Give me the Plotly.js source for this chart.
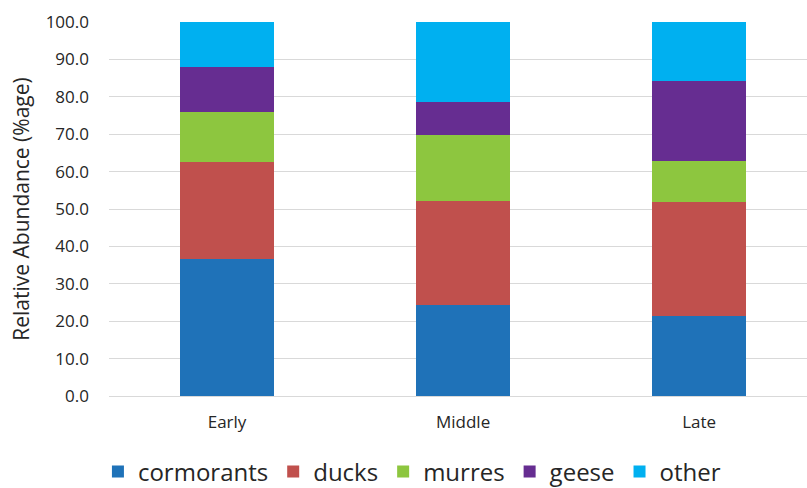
<!DOCTYPE html>
<html>
<head>
<meta charset="utf-8">
<script src="https://cdn.plot.ly/plotly-3.0.1.min.js"></script>
<style>html,body{margin:0;padding:0;background:#fff;}#chart{width:807px;height:488px;}</style>
</head>
<body>
<div id="chart"></div>
<script>
const categories = ["Early", "Middle", "Late"];
const cormorants = [36.5, 24.3, 21.5];
const ducks = [26.0, 27.9, 30.3];
const murres = [13.4, 17.7, 11.0];
const geese = [12.0, 8.7, 21.3];
const other = [12.1, 21.4, 15.9];
const seriesNames = ["cormorants", "ducks", "murres", "geese", "other"];
const seriesColors = ["#1f72b8", "#c0504d", "#8dc63f", "#662d91", "#00b0f0"];
const yTicks = [0, 10, 20, 30, 40, 50, 60, 70, 80, 90, 100];

const values = [cormorants, ducks, murres, geese, other];
const traces = values.map((v, i) => ({
  type: "bar",
  x: categories,
  y: v,
  name: seriesNames[i],
  marker: {color: seriesColors[i], line: {width: 0}},
  hoverinfo: "skip"
}));

const layout = {
  width: 807, height: 488,
  barmode: "stack",
  bargap: 0.6,
  margin: {l: 109, r: 0, t: 22, b: 92, autoexpand: false},
  paper_bgcolor: "#fff", plot_bgcolor: "#fff",
  font: {family: "Open Sans, sans-serif", color: "#404040"},
  showlegend: true,
  legend: {
    orientation: "h", x: 0.434, xanchor: "center", y: -0.203, yanchor: "middle",
    font: {size: 24, color: "#262626"}, traceorder: "normal", itemclick: false
  },
  xaxis: {
    type: "category", range: [-0.5, 2.457],
    showgrid: false, showline: false, zeroline: false, ticks: "",
    tickfont: {size: 17, color: "#262626"}, ticklabelstandoff: 14
  },
  yaxis: {
    range: [0, 100], tickvals: yTicks, ticktext: yTicks.map(v => v.toFixed(1)),
    showgrid: true, gridcolor: "#d9d9d9", gridwidth: 1,
    zeroline: true, zerolinecolor: "#d9d9d9", zerolinewidth: 1,
    showline: false, ticks: "",
    tickfont: {size: 17, color: "#262626"}, ticklabelstandoff: 19,
    title: {text: "Relative Abundance (%age)", font: {size: 21, color: "#262626"}, standoff: 10}
  }
};

Plotly.newPlot("chart", traces, layout, {displayModeBar: false, staticPlot: true});
</script>
</body>
</html>
